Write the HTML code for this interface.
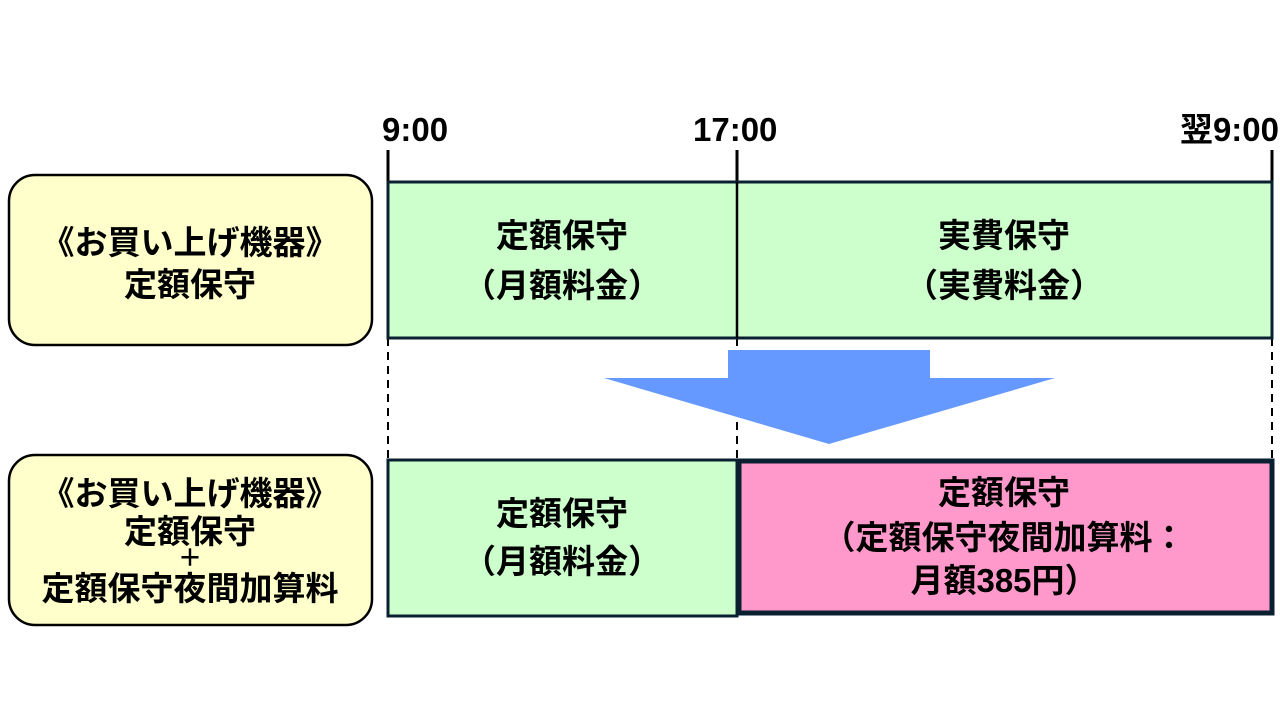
<!DOCTYPE html>
<html><head><meta charset="utf-8"><style>
body{margin:0;background:#fff}
svg text{font-family:"Liberation Sans","Noto Sans CJK JP",sans-serif;font-weight:bold;fill:#000}
</style></head><body>
<svg width="1280" height="720" viewBox="0 0 1280 720" xmlns="http://www.w3.org/2000/svg">
<g font-size="33">
<text x="382" y="141">9:00</text>
<text x="693" y="141">17:00</text>
<text x="1279" y="141" text-anchor="end">翌9:00</text>
</g>
<g stroke="#000" stroke-width="3">
<line x1="388" y1="150" x2="388" y2="182"/><line x1="737" y1="150" x2="737" y2="182"/><line x1="1272" y1="150" x2="1272" y2="182"/>
</g>
<g stroke="#000" stroke-width="2" stroke-dasharray="8,6">
<line x1="388" y1="338" x2="388" y2="459"/><line x1="737" y1="338" x2="737" y2="459"/><line x1="1272" y1="338" x2="1272" y2="459"/>
</g>
<rect x="9" y="175" width="363" height="170" rx="26" fill="#ffffcc" stroke="#000" stroke-width="2.5"/>
<rect x="9" y="455" width="363" height="170" rx="26" fill="#ffffcc" stroke="#000" stroke-width="2.5"/>
<rect x="388" y="182" width="884" height="156" fill="#ccffcc" stroke="#0a2030" stroke-width="3"/>
<line x1="737" y1="182" x2="737" y2="338" stroke="#000" stroke-width="2.5"/>
<polygon points="728,350 930,350 930,378 1055,378 829,444 604,378 728,378" fill="#6699ff"/>
<rect x="388" y="460" width="349" height="156" fill="#ccffcc" stroke="#0a2030" stroke-width="3"/>
<rect x="739" y="461" width="533" height="152" fill="#ff99cc" stroke="#0a2030" stroke-width="5"/>
<g font-size="33" text-anchor="middle">
<text x="190" y="254">《お買い上げ機器》</text>
<text x="190" y="296">定額保守</text>
<text x="190" y="505">《お買い上げ機器》</text>
<text x="190" y="543">定額保守</text>
<text x="190" y="566" font-size="24">＋</text>
<text x="190" y="600">定額保守夜間加算料</text>
<text x="562" y="247">定額保守</text>
<text x="562" y="297">（月額料金）</text>
<text x="1004" y="247">実費保守</text>
<text x="1004" y="297">（実費料金）</text>
<text x="562" y="525">定額保守</text>
<text x="562" y="573">（月額料金）</text>
<text x="1004" y="504">定額保守</text>
<text x="1004" y="549">（定額保守夜間加算料：</text>
<text x="1004" y="592">月額385円）</text>
</g>
</svg>
</body></html>
